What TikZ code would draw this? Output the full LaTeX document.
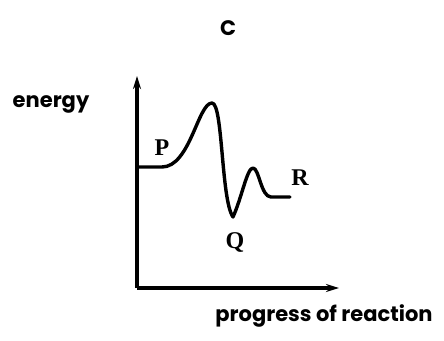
\documentclass[tikz,border=0pt]{standalone}
\usepackage{fontspec}
\usetikzlibrary{arrows.meta}
\newfontfamily\labfont{Poppins}
\newfontfamily\serlab{Liberation Serif}
\begin{document}
\begin{tikzpicture}[x=1pt,y=-1pt,
  axis/.style={line width=3.2pt,-{Stealth[length=13pt,width=8pt]}},
  curve/.style={line width=3.4pt,line cap=round,line join=round},
  word/.style={font=\labfont\bfseries\fontsize{21}{24}\selectfont,inner sep=0pt},
  letter/.style={font=\serlab\bfseries\fontsize{24}{26}\selectfont,inner sep=0pt}]
\useasboundingbox (0,0) rectangle (444,340);
\fill[white] (0,0) rectangle (444,340);
\coordinate (O) at (137,288);
\coordinate (ytop) at (137,76);
\coordinate (xend) at (339,288);
\draw[axis] (O) -- (ytop);
\draw[axis] (O) -- (xend);
\coordinate (start) at (137,167);
\coordinate (pk) at (212,103);
\coordinate (mn) at (233,217);
\coordinate (pk2) at (253,168);
\coordinate (tail) at (290,197);
\draw[curve] (start) -- (162,167) .. controls (190,167) and (198,103) .. (pk)
  .. controls (223,103) and (221,200) .. (mn)
  .. controls (242,197) and (247,168) .. (pk2)
  .. controls (259,168) and (261,197) .. (271,197) -- (tail);
\node[word] (C) at (228,28) {C};
\node[word] (energy) at (51,104) {energy};
\node[word] (prog) at (324,316) {progress of reaction};
\node[letter] (P) at (162,148) {P};
\node[letter] (Q) at (235,242) {Q};
\node[letter] (R) at (300,178) {R};
\end{tikzpicture}
\end{document}
